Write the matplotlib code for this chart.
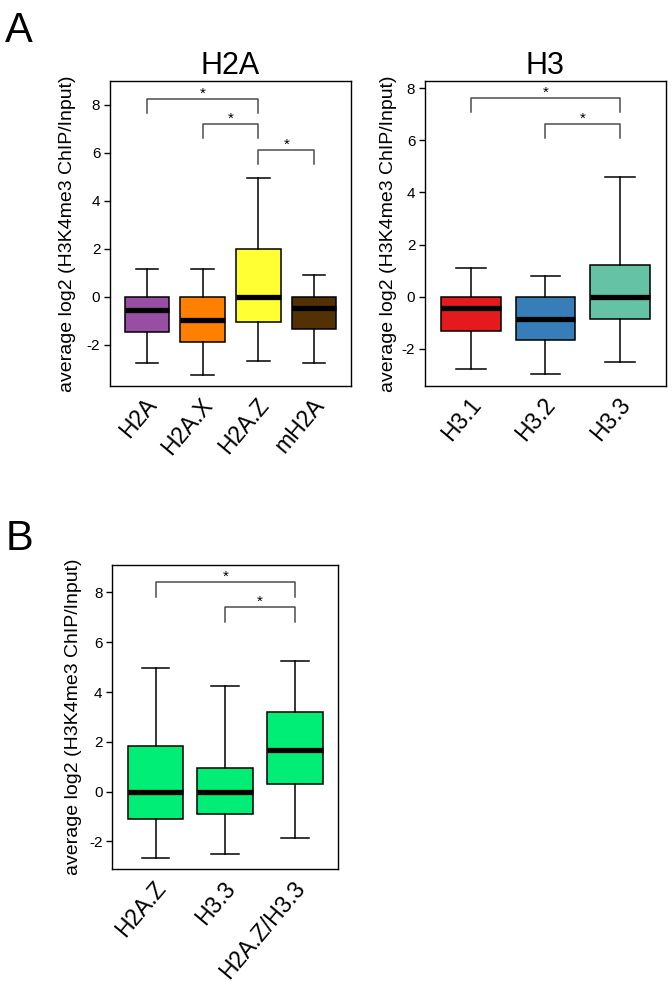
import matplotlib
matplotlib.use("Agg")
import matplotlib.pyplot as plt
from matplotlib.transforms import ScaledTranslation, blended_transform_factory

plt.rcParams['font.family'] = ['Liberation Sans', 'DejaVu Sans']
plt.rcParams['axes.unicode_minus'] = False

# Panel A (left): H2A variants
h2a_names = ["H2A", "H2A.X", "H2A.Z", "mH2A"]
h2a_colors = ["#984EA3", "#FF7F00", "#FFFF33", "#543005"]
h2a_whislo = [-2.78, -3.24, -2.67, -2.78]
h2a_q1 = [-1.46, -1.90, -1.04, -1.36]
h2a_med = [-0.55, -0.97, 0.0, -0.48]
h2a_q3 = [0.0, 0.0, 1.99, 0.0]
h2a_whishi = [1.14, 1.18, 4.96, 0.93]
h2a_sig = [(1, 3, 8.25), (2, 3, 7.21), (3, 4, 6.13)]

# Panel A (right): H3 variants
h3_names = ["H3.1", "H3.2", "H3.3"]
h3_colors = ["#E41A1C", "#377EB8", "#66C2A5"]
h3_whislo = [-2.78, -2.98, -2.52]
h3_q1 = [-1.32, -1.66, -0.87]
h3_med = [-0.45, -0.86, 0.0]
h3_q3 = [0.0, 0.0, 1.22]
h3_whishi = [1.11, 0.81, 4.58]
h3_sig = [(1, 3, 7.62), (2, 3, 6.64)]

# Panel B: H2A.Z / H3.3 overlap
b_names = ["H2A.Z", "H3.3", "H2A.Z/H3.3"]
b_colors = ["#00EE76", "#00EE76", "#00EE76"]
b_whislo = [-2.67, -2.51, -1.87]
b_q1 = [-1.08, -0.91, 0.30]
b_med = [0.0, 0.0, 1.67]
b_q3 = [1.85, 0.94, 3.19]
b_whishi = [4.98, 4.26, 5.25]
b_sig = [(1, 3, 8.42), (2, 3, 7.41)]

ylab = "average log2 (H3K4me3 ChIP/Input)"


def draw_panel(ax, names, colors, lo, q1, med, q3, hi, sig, ylim, drop, title=None, ylab_x=-0.14):
    stats = []
    for i in range(len(names)):
        stats.append(dict(whislo=lo[i], q1=q1[i], med=med[i], q3=q3[i], whishi=hi[i], fliers=[]))
    bp = ax.bxp(stats, positions=range(1, len(names) + 1), widths=0.8, patch_artist=True,
                showfliers=False,
                boxprops=dict(linewidth=1.1, edgecolor='black'),
                whiskerprops=dict(linewidth=1.1, color='black'),
                capprops=dict(linewidth=1.1, color='black'),
                medianprops=dict(linewidth=3.8, color='black', solid_capstyle='butt'),
                capwidths=0.4)
    for patch, c in zip(bp['boxes'], colors):
        patch.set_facecolor(c)

    # significance brackets
    for i, j, y in sig:
        ax.plot([i, i, j, j], [y - drop, y, y, y - drop], color='#4d4d4d', lw=1.1)
        ax.annotate("*", xy=((i + j) / 2, y), xytext=(0, 1), textcoords='offset points',
                    ha='center', va='baseline', fontsize=11)

    n = len(names)
    pad = 0.04 * n
    ax.set_xlim(0.5 - pad, n + 0.5 + pad)
    ax.set_ylim(*ylim)
    ax.set_yticks([-2, 0, 2, 4, 6, 8])
    ax.set_xticks([])

    # rotated category labels, right end just below each box (like R text(srt=45, adj=1))
    trans = blended_transform_factory(ax.transData, ax.transAxes) + \
        ScaledTranslation(6 / 100, -15 / 100, ax.figure.dpi_scale_trans)
    for k, name in enumerate(names):
        ax.text(k + 1, 0, name, transform=trans, rotation=50, rotation_mode='anchor',
                ha='right', va='center', fontsize=16.5)

    ax.tick_params(axis='y', length=4, width=1, labelsize=11, pad=3)
    ax.set_ylabel(ylab, fontsize=14)
    ax.yaxis.set_label_coords(ylab_x, 0.5)
    for s in ax.spines.values():
        s.set_linewidth(1.0)
    if title:
        ax.set_title(title, fontsize=22, pad=4)


fig = plt.figure(figsize=(6.72, 9.99), dpi=100)

ax1 = fig.add_axes([0.1637, 0.6136, 0.3586, 0.3053])
draw_panel(ax1, h2a_names, h2a_colors, h2a_whislo, h2a_q1, h2a_med, h2a_q3, h2a_whishi,
           h2a_sig, (-3.72, 9.0), 0.58, title="H2A", ylab_x=-0.141)

ax2 = fig.add_axes([0.6324, 0.6139, 0.3587, 0.3050])
draw_panel(ax2, h3_names, h3_colors, h3_whislo, h3_q1, h3_med, h3_q3, h3_whishi,
           h3_sig, (-3.42, 8.28), 0.54, title="H3", ylab_x=-0.116)

ax3 = fig.add_axes([0.1671, 0.1298, 0.3363, 0.3046])
draw_panel(ax3, b_names, b_colors, b_whislo, b_q1, b_med, b_q3, b_whishi,
           b_sig, (-3.12, 9.1), 0.59, ylab_x=-0.135)

fig.text(0.008, 0.958, "A", fontsize=30, ha='left', va='baseline')
fig.text(0.008, 0.449, "B", fontsize=30, ha='left', va='baseline')

fig.savefig("out.png", dpi=100)
